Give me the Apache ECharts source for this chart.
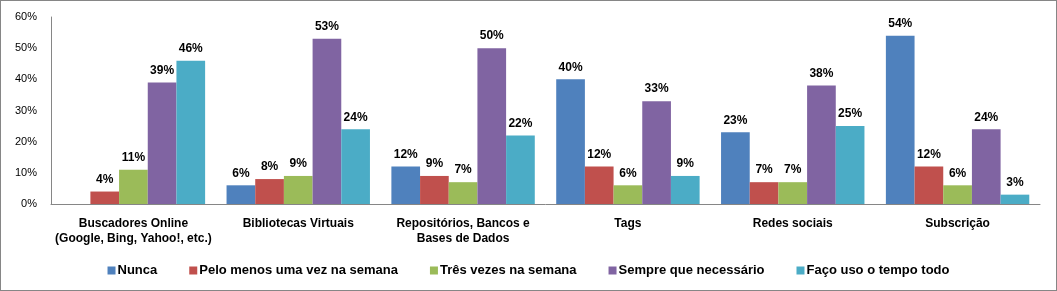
<!DOCTYPE html>
<html>
<head>
<meta charset="utf-8">
<script src="https://cdn.jsdelivr.net/npm/echarts@6/dist/echarts.min.js"></script>
<style>
  html, body { margin: 0; padding: 0; background: #fff; }
  #chart { width: 1057px; height: 291px; box-sizing: border-box; border: 1px solid #868686; }
</style>
</head>
<body>
<div id="chart"></div>
<script>
  var categories = ['Buscadores Online\n(Google, Bing, Yahoo!, etc.)', 'Bibliotecas Virtuais',
    'Repositórios, Bancos e\nBases de Dados', 'Tags', 'Redes sociais', 'Subscrição'];
  var seriesNames = ['Nunca', 'Pelo menos uma vez na semana', 'Três vezes na semana',
    'Sempre que necessário', 'Faço uso o tempo todo'];
  var nunca = [0, 6, 12, 40, 23, 54];
  var peloMenos = [4, 8, 9, 12, 7, 12];
  var tresVezes = [11, 9, 7, 6, 7, 6];
  var sempre = [39, 53, 50, 33, 38, 24];
  var tempoTodo = [46, 24, 22, 9, 25, 3];
  var yTicks = [0, 10, 20, 30, 40, 50, 60];

  var colors = ['#4F81BD', '#C0504D', '#9BBB59', '#8064A2', '#4BACC6'];
  var values = [nunca, peloMenos, tresVezes, sempre, tempoTodo];
  var font = 'Liberation Sans, Arial, sans-serif';

  var chart = echarts.init(document.getElementById('chart'));

  var series = seriesNames.map(function (name, i) {
    return {
      name: name,
      type: 'bar',
      data: values[i],
      barGap: '0%',
      barCategoryGap: '13%',
      itemStyle: { color: colors[i] },
      label: {
        show: true,
        position: 'top',
        distance: 6,
        color: '#000',
        fontFamily: font,
        fontWeight: 'bold',
        fontSize: 12,
        formatter: function (p) { return p.value === 0 ? '' : p.value + '%'; }
      }
    };
  });

  chart.setOption({
    animation: false,
    textStyle: { fontFamily: font },
    grid: { left: 50, right: 16, top: 16, bottom: 86 },
    legend: {
      data: seriesNames,
      bottom: 8,
      left: 'center',
      itemWidth: 8,
      itemHeight: 8,
      itemGap: 32,
      icon: 'rect',
      textStyle: { fontFamily: font, fontWeight: 'bold', fontSize: 13, color: '#000', padding: [0, 0, 0, -3] }
    },
    xAxis: {
      type: 'category',
      data: categories,
      axisLine: { lineStyle: { color: '#868686' } },
      axisTick: { show: false },
      axisLabel: { color: '#000', fontFamily: font, fontWeight: 'bold', fontSize: 12, lineHeight: 15, margin: 12, interval: 0 }
    },
    yAxis: {
      type: 'value',
      min: yTicks[0],
      max: yTicks[yTicks.length - 1],
      interval: 10,
      splitLine: { show: false },
      axisLine: { show: true, lineStyle: { color: '#868686' } },
      axisTick: { show: false },
      axisLabel: { color: '#000', fontFamily: font, fontSize: 11, margin: 14, formatter: '{value}%' }
    },
    series: series
  });
</script>
</body>
</html>
